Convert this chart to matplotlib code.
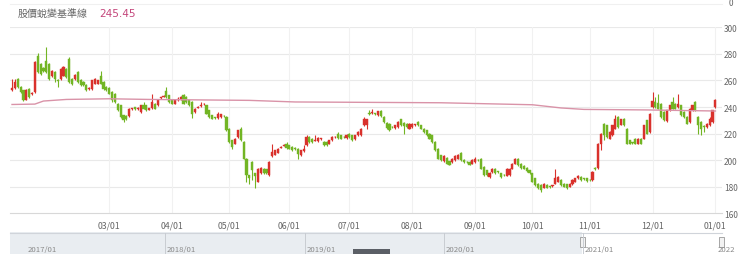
import numpy as np
import pandas as pd
import matplotlib
matplotlib.use("Agg")
import matplotlib.pyplot as plt
from matplotlib.patches import Rectangle

plt.rcParams['font.family'] = ['Noto Sans CJK TC', 'DejaVu Sans']

# --- data ---
title_text = "股價蛻變基準線"
last_value = "245.45"

holidays = ["2021-01-01", "2021-02-08", "2021-02-09", "2021-02-10", "2021-02-11",
            "2021-02-12", "2021-02-15", "2021-02-16", "2021-03-01", "2021-04-02",
            "2021-04-05", "2021-06-14", "2021-09-20", "2021-09-21", "2021-10-11",
            "2021-12-31"]

opens = [252.6, 254.2, 261.2, 255.0, 252.5, 245.5, 253.7, 249.5, 251.2, 278.7,
         272.4, 269.0, 275.0, 272.5, 263.0, 266.2, 260.5, 261.2, 263.7, 268.7,
         276.2, 261.2, 261.2, 266.2, 260.0, 258.7, 256.2, 253.2, 253.7, 257.4,
         257.4, 263.7, 258.7, 255.0, 254.2, 251.2, 250.0, 242.4, 241.2, 233.7,
         233.2, 233.2, 238.2, 239.7, 238.5, 236.2, 241.2, 241.2, 238.0, 239.2,
         242.4, 241.2, 246.5, 247.7, 252.4, 248.7, 245.0, 242.4, 245.0, 245.7,
         249.2, 247.4, 245.0, 243.7, 236.2, 239.5, 240.7, 242.0, 241.2, 237.4,
         233.7, 232.2, 231.7, 232.4, 233.6, 232.4, 223.7, 215.0, 212.4, 217.4,
         223.7, 213.7, 201.2, 188.7, 198.7, 190.0, 183.7, 190.0, 193.7, 193.2,
         188.7, 203.2, 204.2, 205.7, 209.5, 210.8, 212.4, 211.2, 210.0, 209.2,
         208.7, 203.7, 206.7, 211.2, 217.4, 216.2, 214.7, 214.2, 215.7, 213.7,
         213.7, 212.4, 215.0, 217.1, 219.9, 218.7, 217.7, 216.7, 220.0, 218.7,
         215.7, 218.7, 218.7, 226.2, 226.7, 235.4, 235.4, 235.3, 233.7, 237.0,
         232.4, 228.2, 227.4, 225.3, 224.2, 225.0, 230.7, 228.2, 227.4, 223.7,
         225.0, 226.4, 228.7, 226.2, 223.7, 222.4, 220.0, 218.7, 213.7, 208.7,
         203.7, 199.2, 201.7, 199.2, 198.7, 200.0, 201.2, 205.7, 200.0, 198.9,
         198.7, 197.4, 198.7, 200.3, 201.2, 195.0, 192.4, 187.4, 191.2, 193.7,
         191.5, 190.0, 189.0, 188.2, 188.7, 193.7, 197.4, 201.2, 197.4, 195.7,
         194.2, 192.4, 190.0, 186.2, 182.4, 181.2, 179.2, 181.2, 180.2, 180.5,
         182.4, 183.7, 185.0, 182.4, 181.7, 180.0, 181.7, 183.7, 186.2, 187.4,
         186.4, 186.2, 185.3, 185.0, 194.0, 194.2, 212.4, 227.4, 226.2, 216.2,
         218.7, 223.7, 232.4, 226.7, 231.2, 223.7, 215.0, 213.3, 216.2, 212.4,
         216.2, 216.2, 230.0, 221.2, 240.0, 243.7, 243.2, 242.4, 236.2, 229.2,
         237.4, 243.7, 242.4, 240.0, 241.2, 236.2, 232.4, 228.7, 237.4, 243.7,
         232.4, 228.7, 226.0, 225.0, 226.2, 228.7, 240.0]

closes = [254.5, 258.7, 255.0, 251.2, 245.0, 252.5, 247.5, 250.5, 273.7, 266.2,
          265.0, 267.0, 266.2, 261.2, 267.4, 261.2, 259.7, 268.7, 270.0, 262.4,
          258.7, 257.4, 264.2, 258.7, 256.2, 256.7, 252.5, 254.0, 260.0, 261.2,
          260.0, 257.4, 253.7, 252.5, 250.0, 245.0, 243.7, 237.4, 232.4, 230.0,
          230.7, 238.7, 239.0, 238.5, 239.5, 241.2, 238.7, 237.4, 238.9, 243.7,
          238.7, 245.0, 247.2, 248.2, 247.4, 243.7, 242.4, 245.0, 246.2, 247.4,
          242.4, 243.7, 241.2, 235.0, 238.7, 240.2, 241.4, 242.6, 235.0, 232.4,
          231.2, 231.7, 235.0, 234.4, 233.0, 222.4, 213.7, 210.0, 216.2, 222.4,
          215.0, 201.2, 188.7, 186.2, 192.4, 188.0, 193.7, 194.2, 190.0, 190.0,
          198.7, 206.2, 207.4, 208.7, 210.2, 211.5, 209.2, 208.7, 207.4, 208.5,
          205.0, 207.4, 208.7, 217.4, 213.7, 213.7, 215.3, 216.7, 216.4, 211.2,
          211.2, 215.0, 217.4, 217.7, 216.7, 216.2, 217.1, 219.2, 217.4, 215.0,
          218.7, 221.2, 223.7, 230.7, 230.7, 234.7, 236.0, 234.7, 236.7, 233.2,
          228.7, 224.2, 222.4, 224.7, 226.2, 228.7, 226.2, 225.7, 225.0, 227.4,
          227.4, 227.0, 226.2, 223.7, 221.2, 218.7, 216.2, 213.7, 207.4, 201.2,
          200.0, 203.2, 197.4, 196.7, 201.2, 203.2, 204.2, 200.0, 198.7, 198.4,
          196.7, 200.0, 201.2, 199.8, 193.7, 188.7, 188.7, 190.7, 193.7, 190.0,
          191.0, 187.4, 188.5, 193.7, 193.7, 197.4, 201.2, 196.2, 194.2, 193.7,
          191.7, 190.0, 183.7, 181.2, 178.7, 177.4, 182.4, 179.2, 179.8, 181.0,
          186.2, 187.4, 181.2, 180.0, 178.7, 182.4, 185.0, 186.2, 188.2, 185.0,
          185.8, 184.2, 184.8, 191.2, 193.4, 212.4, 220.0, 218.7, 217.4, 221.2,
          226.2, 231.2, 225.0, 230.7, 226.2, 212.4, 212.4, 212.7, 212.4, 216.2,
          212.4, 226.2, 220.0, 235.0, 244.2, 240.0, 238.7, 232.4, 230.0, 237.4,
          241.2, 238.7, 238.7, 242.4, 233.7, 232.4, 227.4, 238.7, 241.2, 237.4,
          226.2, 223.7, 225.0, 227.4, 231.2, 237.4, 245.45]

highs = [261.0, 261.2, 262.0, 256.0, 253.0, 253.5, 254.5, 251.5, 274.5, 280.7,
         273.0, 270.0, 285.0, 273.0, 268.0, 267.0, 261.0, 269.5, 271.0, 269.5,
         277.4, 262.0, 265.0, 267.0, 261.0, 259.5, 257.0, 255.0, 260.5, 262.0,
         260.5, 267.4, 259.5, 255.5, 255.4, 252.0, 250.5, 243.0, 241.5, 234.0,
         233.7, 239.2, 239.5, 240.2, 240.0, 241.7, 243.7, 241.7, 239.4, 250.0,
         243.0, 246.2, 247.7, 248.7, 255.0, 249.2, 245.5, 245.5, 247.4, 248.0,
         249.7, 248.0, 245.5, 244.2, 239.2, 240.7, 243.7, 243.0, 241.7, 237.9,
         234.2, 232.7, 236.2, 234.9, 234.0, 232.9, 224.2, 215.5, 216.7, 222.9,
         225.0, 214.2, 201.7, 189.2, 199.2, 190.5, 194.2, 194.7, 194.2, 193.7,
         199.2, 212.4, 207.9, 209.2, 210.7, 212.0, 213.7, 211.7, 210.5, 209.7,
         209.2, 207.9, 211.2, 218.7, 217.9, 216.7, 218.7, 217.2, 216.9, 214.2,
         214.2, 215.5, 217.9, 218.2, 221.2, 219.2, 218.2, 219.7, 220.5, 219.2,
         219.2, 221.7, 224.2, 232.4, 231.2, 237.4, 238.7, 235.8, 237.2, 237.5,
         232.9, 228.7, 227.9, 225.8, 226.7, 229.2, 231.2, 228.7, 227.9, 227.9,
         227.9, 227.5, 229.2, 226.7, 224.2, 222.9, 220.5, 219.2, 214.2, 209.2,
         204.2, 203.7, 202.2, 199.7, 201.7, 203.7, 204.7, 206.2, 200.5, 199.4,
         199.2, 200.5, 202.4, 200.8, 201.7, 195.5, 192.9, 191.2, 194.2, 194.2,
         192.0, 190.5, 189.5, 194.2, 194.2, 197.9, 201.7, 201.7, 197.9, 196.2,
         194.7, 192.9, 190.5, 186.7, 182.9, 181.7, 182.9, 181.7, 180.7, 181.5,
         193.7, 187.9, 185.5, 182.9, 182.2, 182.9, 185.5, 186.7, 188.7, 187.9,
         186.9, 186.7, 185.8, 191.7, 194.5, 212.9, 220.5, 227.9, 226.7, 221.7,
         226.7, 233.7, 232.9, 231.2, 231.7, 224.2, 215.5, 213.8, 216.7, 216.7,
         216.7, 226.7, 230.5, 235.5, 251.2, 247.4, 250.0, 242.9, 236.7, 237.9,
         241.7, 247.4, 242.9, 250.0, 241.7, 236.7, 232.9, 239.2, 241.7, 244.2,
         232.9, 229.2, 226.5, 227.9, 232.4, 237.9, 246.2]

lows = [251.7, 253.5, 254.0, 250.5, 244.5, 245.0, 247.0, 249.0, 250.5, 265.5,
        264.0, 266.0, 265.5, 260.5, 262.5, 258.7, 255.0, 260.5, 263.0, 261.5,
        258.0, 256.5, 260.5, 258.0, 255.5, 256.0, 251.7, 252.5, 253.0, 257.0,
        257.0, 257.0, 253.0, 252.0, 249.5, 243.7, 243.0, 237.0, 232.0, 228.7,
        230.2, 232.7, 237.5, 238.0, 238.0, 235.7, 238.2, 237.0, 237.5, 238.7,
        238.2, 240.7, 246.0, 247.2, 247.0, 243.2, 242.0, 242.0, 244.5, 245.2,
        242.0, 243.2, 240.7, 231.7, 235.7, 239.0, 240.2, 241.5, 234.5, 232.0,
        230.7, 231.2, 231.2, 232.0, 232.5, 222.0, 213.2, 208.7, 212.0, 217.0,
        214.5, 200.7, 183.7, 182.4, 185.0, 178.7, 183.2, 189.5, 189.5, 189.5,
        188.2, 202.7, 203.7, 205.2, 209.0, 210.3, 208.7, 208.2, 206.9, 208.0,
        201.2, 203.2, 206.2, 210.7, 213.2, 213.2, 214.2, 213.7, 215.2, 210.7,
        210.7, 211.9, 214.5, 216.6, 216.2, 215.7, 216.6, 216.2, 216.9, 214.5,
        215.2, 218.2, 218.2, 225.7, 223.7, 234.2, 235.0, 234.2, 233.2, 232.7,
        228.2, 223.7, 221.9, 224.2, 223.7, 224.5, 225.7, 220.0, 224.5, 223.2,
        224.5, 225.9, 225.7, 223.2, 220.7, 218.2, 215.7, 213.2, 206.9, 200.7,
        199.5, 198.7, 196.9, 196.2, 198.2, 199.5, 200.7, 199.5, 198.2, 197.9,
        196.2, 196.9, 198.2, 199.3, 193.2, 188.2, 188.2, 186.9, 190.7, 189.5,
        190.5, 186.9, 188.0, 187.7, 188.2, 193.2, 196.9, 195.7, 193.7, 193.2,
        191.2, 189.5, 183.2, 180.7, 178.2, 176.2, 178.7, 178.7, 179.3, 180.0,
        181.9, 183.2, 180.7, 179.5, 178.2, 179.5, 181.2, 183.2, 185.7, 184.5,
        185.3, 183.7, 184.3, 184.5, 192.9, 193.7, 207.4, 215.0, 216.9, 215.7,
        218.2, 223.2, 224.5, 226.2, 225.7, 211.9, 211.9, 212.2, 211.9, 211.9,
        211.9, 215.7, 219.5, 220.7, 239.5, 239.5, 238.2, 231.9, 229.5, 228.7,
        236.9, 238.2, 238.2, 239.5, 233.2, 231.9, 226.9, 228.2, 236.9, 236.9,
        220.0, 218.7, 221.2, 224.5, 225.7, 228.2, 239.5]

# baseline line, read at a few trading-day positions
base_idx = [0, 8, 11, 19, 34, 48, 83, 99, 150, 182, 192, 200, 222, 246]
base_val = [241.9, 242.2, 244.5, 245.7, 246.2, 245.7, 245.0, 243.8, 243.2,
            241.7, 239.3, 238.2, 237.8, 237.0]

nav_labels = ["2017/01", "2018/01", "2019/01", "2020/01", "2021/01", "2022"]

# --- trading days ---
dates = pd.bdate_range("2020-12-31", "2022-01-03")
dates = dates[~dates.isin(pd.to_datetime(holidays))]
n = len(opens)
dates = dates[:n]
idx = np.arange(n)

month_pos = []
month_lab = []
prev = None
for i, d in enumerate(dates):
    key = (d.year, d.month)
    if key != prev:
        if i > 0 and not (d.year == 2021 and d.month <= 2):
            month_pos.append(i)
            month_lab.append(f"{d.month:02d}/01")
        prev = key

# --- figure ---
W, H = 740, 255
fig = plt.figure(figsize=(W / 100, H / 100), dpi=100)
fig.patch.set_facecolor("white")


def fx(px):
    return px / W


def fy(py):
    return 1 - py / H


ax = fig.add_axes([fx(10), fy(214.3), fx(722 - 10), fy(28.3) - fy(214.3)])
ax.set_xlim(-0.7, 248.3)
ax.set_ylim(160, 300)

o = np.array(opens)
c = np.array(closes)
h = np.array(highs)
l = np.array(lows)
up = c >= o
red = "#d9312c"
green = "#72b524"
cols = np.where(up, red, green)

for y in range(180, 301, 20):
    ax.axhline(y, color="#e9e9e9", lw=0.8, zorder=0)
for p in month_pos:
    ax.axvline(p, color="#f1f1f1", lw=0.8, zorder=0)

ax.vlines(idx, l, h, colors=cols, lw=0.8, zorder=2)
bottom = np.minimum(o, c)
height = np.maximum(np.abs(c - o), 0.4)
ax.bar(idx, height, bottom=bottom, width=0.75, color=cols, edgecolor=cols,
       lw=0.3, zorder=3)

ax.plot(base_idx, base_val, color="#d993a8", lw=1.0, zorder=4)

for s in ["top", "left", "right"]:
    ax.spines[s].set_visible(False)
ax.spines["bottom"].set_color("#d8d8d8")
ax.spines["bottom"].set_linewidth(0.8)

ax.set_xticks(month_pos)
ax.set_xticklabels(month_lab)
ax.yaxis.tick_right()
ax.set_yticks(range(160, 301, 20))
ax.tick_params(axis="x", length=0, labelsize=6.3, colors="#666666", pad=5)
ax.tick_params(axis="y", length=0, labelsize=6.0, colors="#666666", pad=1.5)

# header
fig.text(fx(18), fy(14), title_text, fontsize=7.2, color="#666666", va="center")
fig.text(fx(99), fy(14), last_value, fontsize=7.5, color="#c4467b", va="center",
         family=["DejaVu Sans"])
fig.text(fx(729), fy(4), "0", fontsize=6.0, color="#666666", va="center")
fig.add_artist(plt.Line2D([fx(10), fx(722)], [fy(5), fy(5)], color="#f0f0f0", lw=0.8))

# navigator
nav = fig.add_axes([0, 0, 1, fy(233)])
nav.set_xlim(0, W)
nav.set_ylim(H, 233)
nav.axis("off")
nav.add_patch(Rectangle((10, 233), 572, 22, color="#e9edf1", lw=0))
nav.plot([10, 722], [233.5, 233.5], color="#d0d4da", lw=0.8)
for px in [165, 305, 444, 583]:
    nav.plot([px, px], [233.5, 255], color="#c8ccd2", lw=0.7)
nav.add_patch(Rectangle((353, 250), 37, 5, color="#5b5f66", lw=0))
for lab, px in zip(nav_labels, [28, 167, 307, 446, 585, 718]):
    nav.text(px, 250.5, lab, fontsize=5.6, color="#8a8a8a", va="center")
for px in [582, 721]:
    nav.add_patch(Rectangle((px - 2.5, 237.5), 5, 10, facecolor="#f2f2f2",
                            edgecolor="#999999", lw=0.6))

fig.savefig("out.png", dpi=100, facecolor="white")
